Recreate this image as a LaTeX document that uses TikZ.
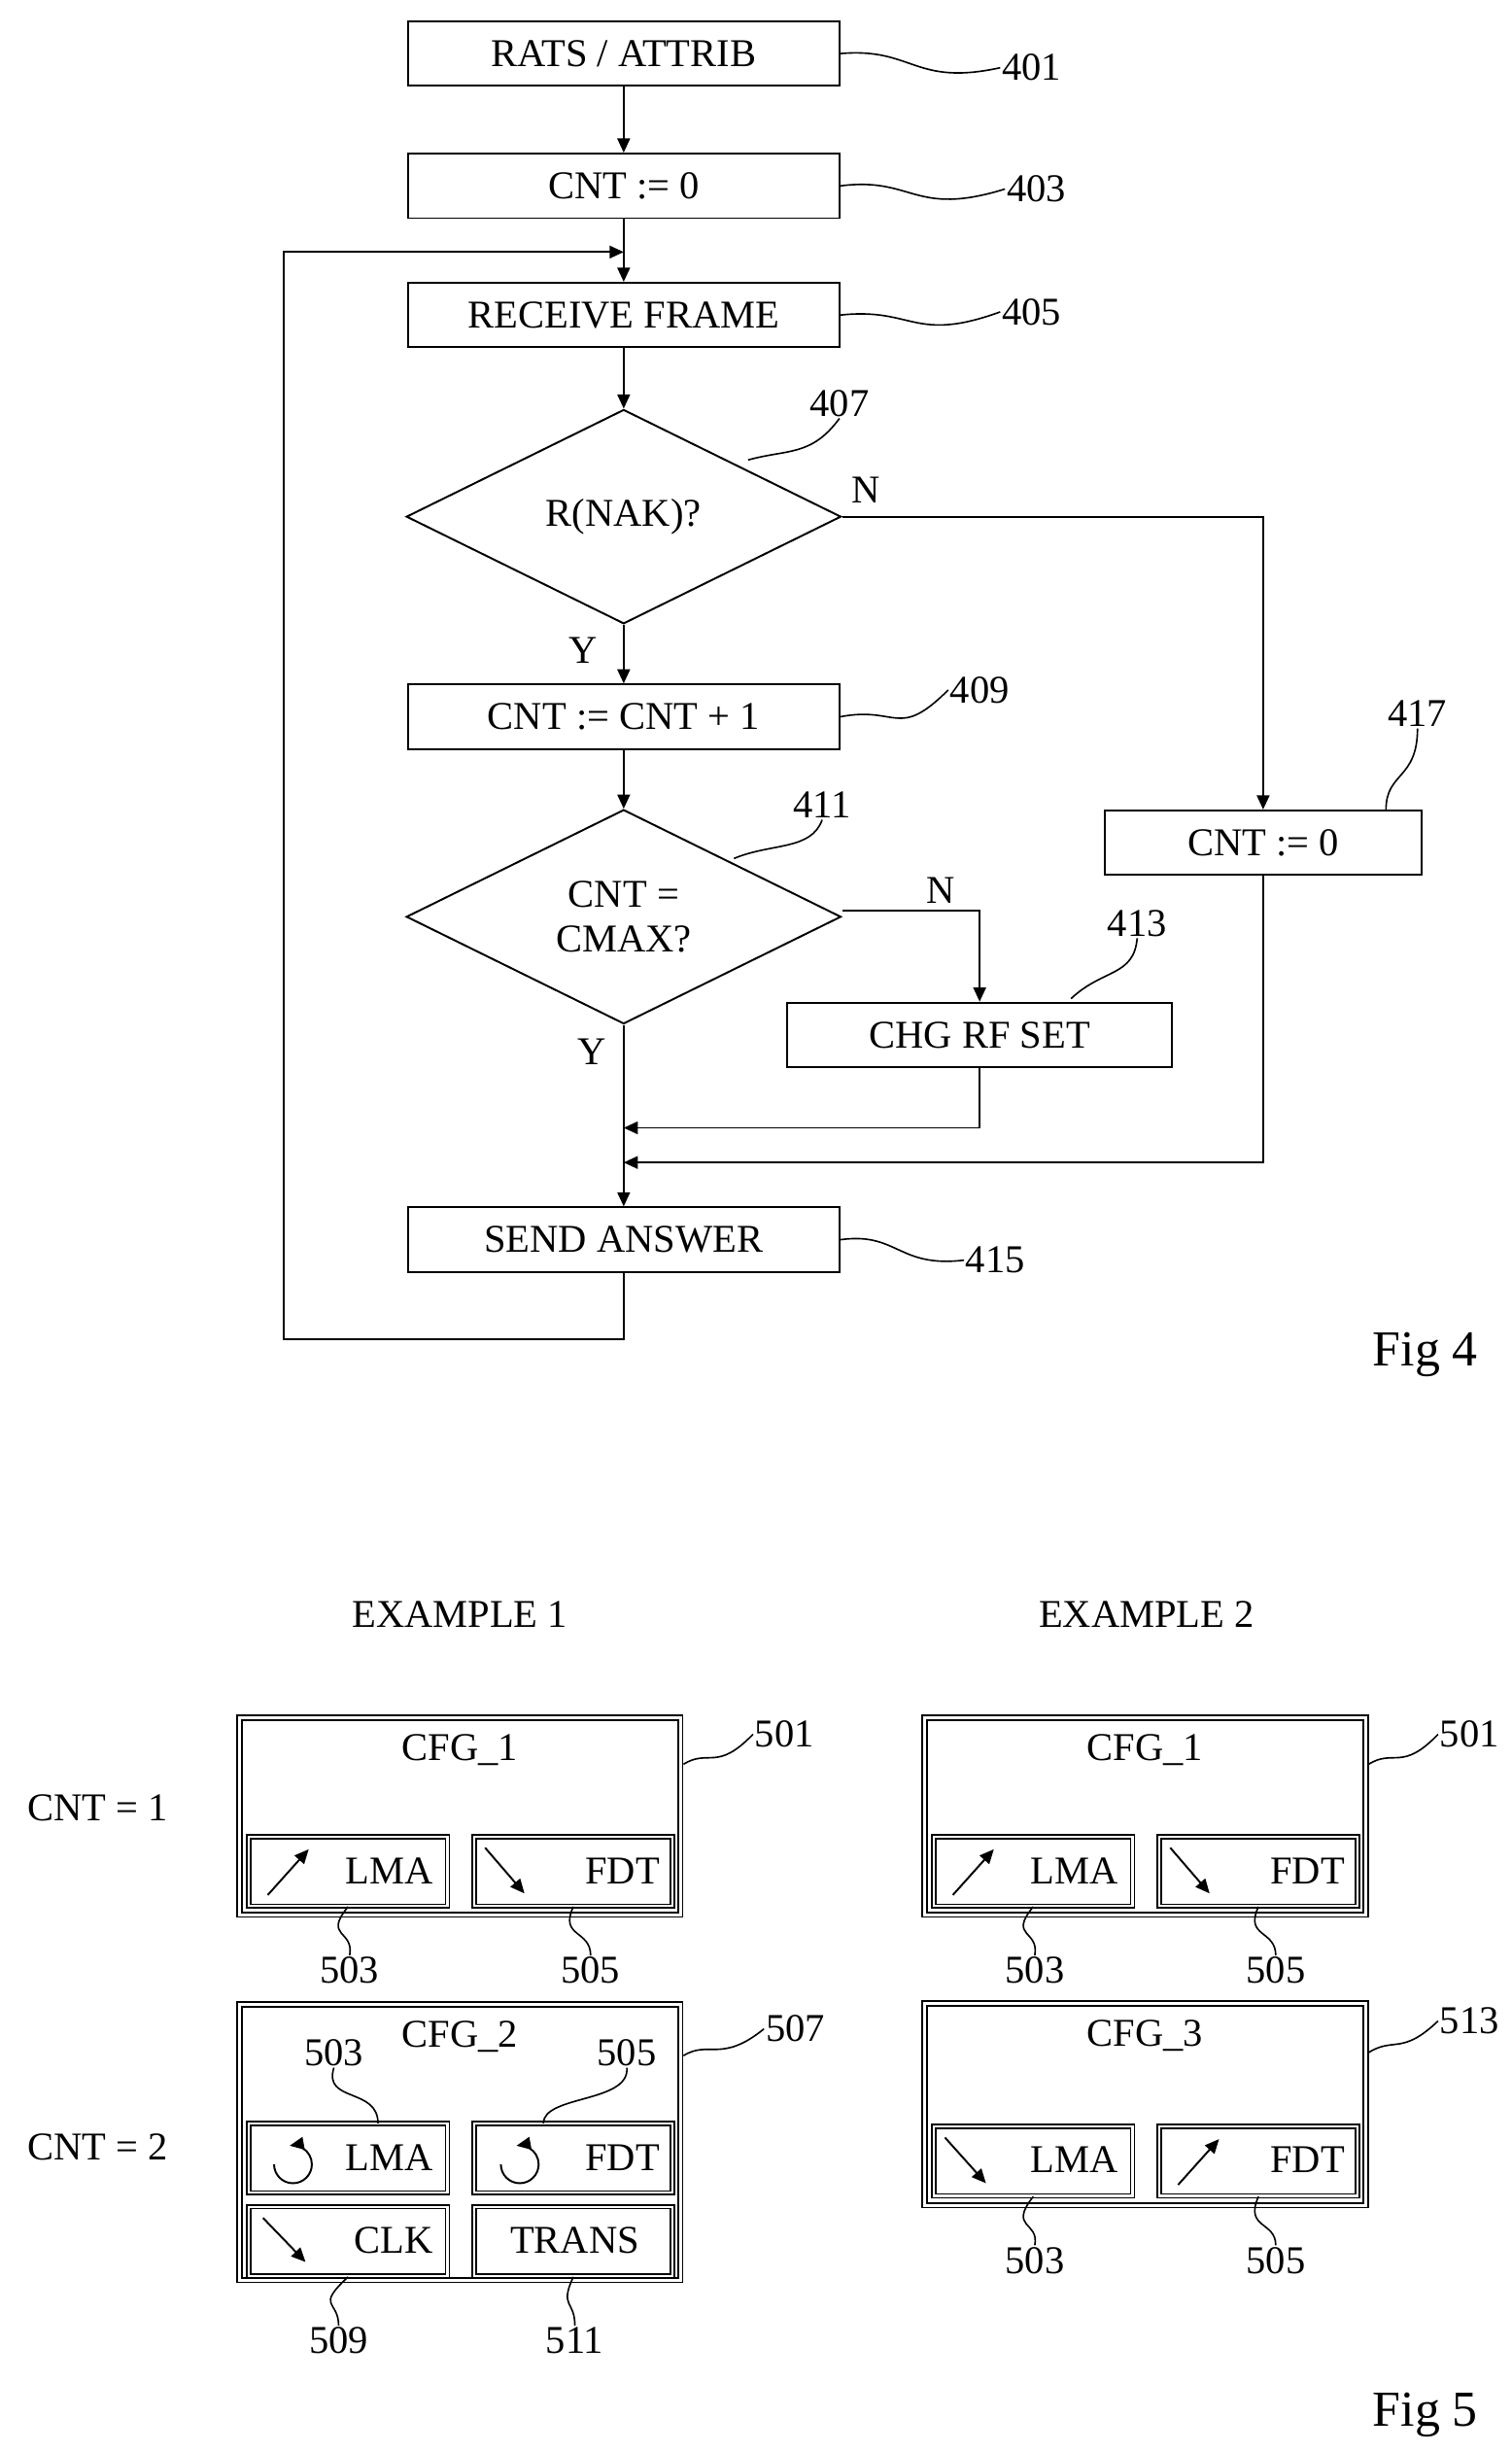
\documentclass[tikz,border=0pt]{standalone}
\usepackage{fontspec}
\setmainfont{Liberation Serif}
\usetikzlibrary{shapes.geometric,arrows.meta,positioning}
\tikzset{
  box/.style={draw,line width=1.2pt,minimum width=274pt,minimum height=41pt,inner sep=0pt,font=\fontsize{25}{28}\selectfont},
  dec/.style={draw,diamond,aspect=2.03,line width=1.2pt,minimum width=276pt,minimum height=136pt,inner sep=0pt,align=center,font=\fontsize{25}{28}\selectfont},
  cfg/.style={draw,double,double distance=2pt,line width=1pt,inner sep=0pt},
  sub/.style={draw,double,double distance=1.5pt,line width=0.9pt,minimum width=126pt,minimum height=44pt,inner sep=0pt},
  lbl/.style={font=\fontsize{25}{28}\selectfont,inner sep=1pt},
  ref/.style={line width=1pt},
  flow/.style={line width=1.2pt,-{Triangle[length=9pt,width=8pt]}},
  ic/.style={line width=1.2pt,-{Triangle[length=9pt,width=8pt]}}
}
\begin{document}
\begin{tikzpicture}[x=1pt,y=-1pt]
\useasboundingbox (0,0) rectangle (960,1556);
%Fig 4
\node[box] (n401) at (396,34) {RATS / ATTRIB};
\node[box] (n403) at (396,118) {CNT := 0};
\node[box] (n405) at (396,200) {RECEIVE FRAME};
\node[dec] (n407) at (396,328) {R(NAK)?};
\node[box] (n409) at (396,455) {CNT := CNT + 1};
\node[dec] (n411) at (396,582) {CNT =\\CMAX?};
\node[box,minimum width=244pt] (n413) at (622,657) {CHG RF SET};
\node[box,minimum width=201pt] (n417) at (802,535) {CNT := 0};
\node[box] (n415) at (396,787) {SEND ANSWER};
\coordinate (loopin) at (396,160);
\coordinate (m1) at (396,716);
\coordinate (m2) at (396,738);
% connectors
\draw[flow] (n401) -- (n403);
\draw[flow] (n403) -- (n405);
\draw[flow] (n405) -- (n407);
\draw[flow] (n407) -- (n409);
\draw[flow] (n409) -- (n411);
\draw[flow] (n411) -- (n415);
\draw[flow] (n407.east) -| (n417.north);
\draw[flow] (n411.east) ++(0,-4) -| (n413.north);
\draw[flow] (n413.south) |- (m1);
\draw[flow] (n417.south) |- (m2);
\draw[flow] (n415.south) -- ++(0,42) -| (180,160) -- (loopin);
% yes / no
\node[lbl] at (550,311) {N};
\node[lbl] at (370,413) {Y};
\node[lbl] at (597,565) {N};
\node[lbl] at (376,668) {Y};
% reference numbers
\node[lbl] (r401) at (655,43) {401};
\node[lbl] (r403) at (658,120) {403};
\node[lbl] (r405) at (655,198) {405};
\node[lbl] (r407) at (533,256) {407};
\node[lbl] (r409) at (622,438) {409};
\node[lbl] (r411) at (522,511) {411};
\node[lbl] (r413) at (722,586) {413};
\node[lbl] (r417) at (900,453) {417};
\node[lbl] (r415) at (632,800) {415};
\draw[ref] (n401.east) .. controls (580,30) and (580,55) .. (r401.west);
\draw[ref] (n403.east) .. controls (580,112) and (580,138) .. (r403.west);
\draw[ref] (n405.east) .. controls (580,195) and (580,218) .. (r405.west);
\draw[ref] (475,292) .. controls (500,285) and (515,290) .. (r407.south);
\draw[ref] (n409.east) .. controls (570,448) and (570,470) .. (r409.west);
\draw[ref] (466,545) .. controls (490,535) and (515,540) .. (r411.south);
\draw[ref] (680,634) .. controls (700,615) and (720,620) .. (r413.south);
\draw[ref] (880,514) .. controls (880,490) and (900,495) .. (r417.south);
\draw[ref] (n415.east) .. controls (570,782) and (570,805) .. (r415.west);
\node[font=\fontsize{32}{36}\selectfont] at (905,860) {Fig 4};
%Fig 5
\node[lbl] at (292,1025) {EXAMPLE 1};
\node[lbl] at (728,1025) {EXAMPLE 2};
\node[lbl] at (62,1148) {CNT = 1};
\node[lbl] at (62,1363) {CNT = 2};
% example 1
\node[cfg,minimum width=280pt,minimum height=125pt] (c1a) at (292,1153) {};
\node[lbl,below=10pt of c1a.north] {CFG\_1};
\node[sub] (lmaa) at (221,1188) {};
\node[sub] (fdta) at (364,1188) {};
\draw[ic] (170,1203) -- (196,1174);
\node[lbl,anchor=east] at (276,1188) {LMA};
\draw[ic] (308,1173) -- (333,1202);
\node[lbl,anchor=east] at (420,1188) {FDT};
\node[cfg,minimum width=280pt,minimum height=175pt] (c2a) at (292,1360) {};
\node[lbl,below=10pt of c2a.north] {CFG\_2};
\node[sub] (lmab) at (221,1370) {};
\node[sub] (fdtb) at (364,1370) {};
\node[sub] (clkb) at (221,1423) {};
\node[sub] (trnb) at (364,1423) {};
\draw[ic] (174,1374) arc[start angle=180,end angle=-100,radius=12];
\node[lbl,anchor=east] at (276,1370) {LMA};
\draw[ic] (318,1374) arc[start angle=180,end angle=-100,radius=12];
\node[lbl,anchor=east] at (420,1370) {FDT};
\draw[ic] (167,1408) -- (194,1436);
\node[lbl,anchor=east] at (276,1422) {CLK};
\node[lbl] at (365,1422) {TRANS};
% example 2
\node[cfg,minimum width=280pt,minimum height=125pt] (c1b) at (727,1153) {};
\node[lbl,below=10pt of c1b.north] {CFG\_1};
\node[sub] (lmac) at (656,1188) {};
\node[sub] (fdtc) at (799,1188) {};
\draw[ic] (605,1203) -- (631,1174);
\node[lbl,anchor=east] at (711,1188) {LMA};
\draw[ic] (743,1173) -- (768,1202);
\node[lbl,anchor=east] at (855,1188) {FDT};
\node[cfg,minimum width=280pt,minimum height=128pt] (c3b) at (727,1336) {};
\node[lbl,below=10pt of c3b.north] {CFG\_3};
\node[sub] (lmad) at (656,1372) {};
\node[sub] (fdtd) at (799,1372) {};
\draw[ic] (600,1357) -- (626,1386);
\node[lbl,anchor=east] at (711,1371) {LMA};
\draw[ic] (748,1387) -- (774,1358);
\node[lbl,anchor=east] at (855,1371) {FDT};
% reference numbers fig 5
\node[lbl] (r501a) at (498,1101) {501};
\node[lbl] (r503a) at (222,1251) {503};
\node[lbl] (r505a) at (375,1251) {505};
\node[lbl] (r507) at (505,1288) {507};
\node[lbl] (r503b) at (212,1303) {503};
\node[lbl] (r505b) at (398,1303) {505};
\node[lbl] (r509) at (215,1486) {509};
\node[lbl] (r511) at (365,1486) {511};
\node[lbl] (r501b) at (933,1101) {501};
\node[lbl] (r503c) at (657,1251) {503};
\node[lbl] (r505c) at (810,1251) {505};
\node[lbl] (r513) at (933,1283) {513};
\node[lbl] (r503d) at (657,1435) {503};
\node[lbl] (r505d) at (810,1435) {505};
\draw[ref] (434,1120) .. controls (450,1110) and (455,1125) .. (r501a.west);
\draw[ref] (lmaa.south) .. controls (205,1230) and (225,1225) .. (r503a.north);
\draw[ref] (fdta.south) .. controls (355,1230) and (375,1225) .. (r505a.north);
\draw[ref] (434,1305) .. controls (450,1295) and (458,1310) .. (r507.west);
\draw[ref] (r503b.south) .. controls (205,1335) and (240,1325) .. (240,1348);
\draw[ref] (r505b.south) .. controls (400,1335) and (345,1330) .. (345,1348);
\draw[ref] (clkb.south) .. controls (200,1465) and (215,1460) .. (r509.north);
\draw[ref] (trnb.south) .. controls (355,1465) and (365,1460) .. (r511.north);
\draw[ref] (869,1120) .. controls (885,1110) and (890,1125) .. (r501b.west);
\draw[ref] (lmac.south) .. controls (640,1230) and (660,1225) .. (r503c.north);
\draw[ref] (fdtc.south) .. controls (790,1230) and (810,1225) .. (r505c.north);
\draw[ref] (869,1303) .. controls (885,1293) and (890,1305) .. (r513.west);
\draw[ref] (lmad.south) .. controls (640,1415) and (660,1410) .. (r503d.north);
\draw[ref] (fdtd.south) .. controls (790,1415) and (810,1410) .. (r505d.north);
\node[font=\fontsize{32}{36}\selectfont] at (905,1533) {Fig 5};
\end{tikzpicture}
\end{document}
